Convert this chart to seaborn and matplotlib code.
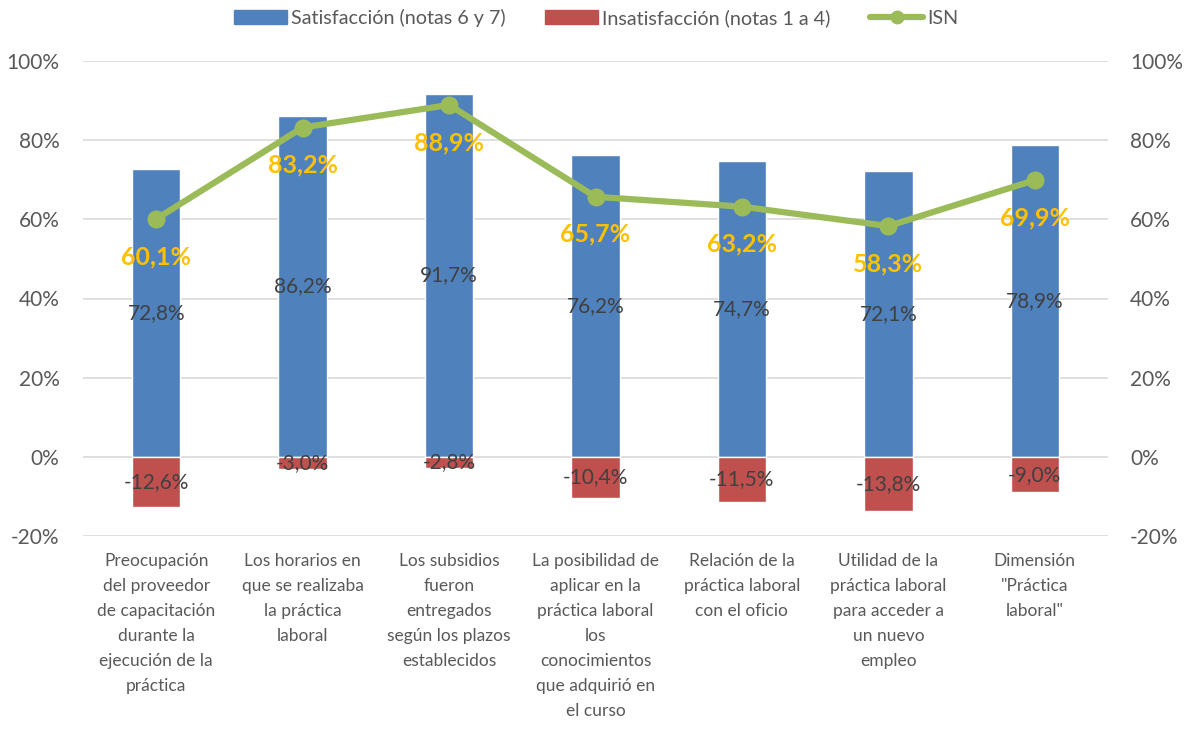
import numpy as np
import pandas as pd
import matplotlib
matplotlib.use("Agg")
import matplotlib.pyplot as plt
import seaborn as sns
from matplotlib.patches import Patch
from matplotlib.lines import Line2D

categorias = [
    "Preocupación\ndel proveedor\nde capacitación\ndurante la\nejecución de la\npráctica",
    "Los horarios en\nque se realizaba\nla práctica\nlaboral",
    "Los subsidios\nfueron\nentregados\nsegún los plazos\nestablecidos",
    "La posibilidad de\naplicar en la\npráctica laboral\nlos\nconocimientos\nque adquirió en\nel curso",
    "Relación de la\npráctica laboral\ncon el oficio",
    "Utilidad de la\npráctica laboral\npara acceder a\nun nuevo\nempleo",
    "Dimensión\n\"Práctica\nlaboral\"",
]
satisfaccion = [72.8, 86.2, 91.7, 76.2, 74.7, 72.1, 78.9]
insatisfaccion = [-12.6, -3.0, -2.8, -10.4, -11.5, -13.8, -9.0]
isn = [60.1, 83.2, 88.9, 65.7, 63.2, 58.3, 69.9]

AZUL = "#4F81BD"
ROJO = "#C0504D"
VERDE = "#9BBB59"
NARANJA = "#FFC000"
GRIS = "#595959"

sns.set_theme(style="white")
plt.rcParams["font.family"] = ["Lato", "DejaVu Sans"]

def fmt(v):
    return f"{v:.1f}".replace(".", ",") + "%"

df = pd.DataFrame({"cat": categorias, "sat": satisfaccion,
                   "ins": insatisfaccion, "isn": isn, "pos": np.arange(len(categorias))})

fig = plt.figure(figsize=(11.92, 7.29), dpi=100)
ax = fig.add_axes([83 / 1192, 1 - 536 / 729, (1108 - 83) / 1192, (536 - 61) / 729])

sns.barplot(data=df, x="cat", y="sat", color=AZUL, width=0.33, saturation=1, ax=ax, zorder=2)
sns.barplot(data=df, x="cat", y="ins", color=ROJO, width=0.33, saturation=1, ax=ax, zorder=2)
sns.lineplot(data=df, x="pos", y="isn", color=VERDE, lw=4.5, marker="o", markersize=13,
             markeredgewidth=0, ax=ax, zorder=3)

ax.set_xlim(-0.5, len(categorias) - 0.5)
ax.set_ylim(-20, 100)
ticks = np.arange(-20, 101, 20)
ax.set_yticks(ticks)
ax.set_yticklabels([f"{t}%" for t in ticks])
ax.yaxis.grid(True, color="#D9D9D9", lw=1.2, zorder=0)
ax.set_axisbelow(True)
for s in ax.spines.values():
    s.set_visible(False)
ax.set_xlabel("")
ax.set_ylabel("")
ax.tick_params(axis="y", length=0, pad=17, labelsize=15, labelcolor=GRIS)
ax.tick_params(axis="x", length=0, pad=12, labelsize=12.5, labelcolor=GRIS)
ax.set_xticks(range(len(categorias)))
ax.set_xticklabels(categorias, linespacing=1.7, va="top")

ax2 = ax.twinx()
ax2.set_ylim(-20, 100)
ax2.set_yticks(ticks)
ax2.set_yticklabels([f"{t}%" for t in ticks])
ax2.tick_params(axis="y", length=0, pad=16, labelsize=15, labelcolor=GRIS)
for s in ax2.spines.values():
    s.set_visible(False)

for i, (s, n, v) in enumerate(zip(satisfaccion, insatisfaccion, isn)):
    ax.text(i, s / 2, fmt(s), ha="center", va="center", fontsize=15, color="#404040", zorder=5)
    ax.text(i, n / 2, fmt(n), ha="center", va="center", fontsize=15, color="#404040", zorder=5)
    ax.annotate(fmt(v), (i, v), xytext=(0, -27), textcoords="offset points",
                ha="center", va="center", fontsize=18, fontweight="bold", color=NARANJA, zorder=6)

handles = [
    Patch(color=AZUL, label="Satisfacción (notas 6 y 7)"),
    Patch(color=ROJO, label="Insatisfacción (notas 1 a 4)"),
    Line2D([0], [0], color=VERDE, lw=4.5, marker="o", markersize=9, label="ISN"),
]
fig.legend(handles=handles, loc="center", bbox_to_anchor=(0.5, 0.975), ncol=3, frameon=False,
           fontsize=14.2, handlelength=2.7, handleheight=0.7, columnspacing=2.0, handletextpad=0.2,
           labelcolor=GRIS)

fig.savefig("out.png", dpi=100)
